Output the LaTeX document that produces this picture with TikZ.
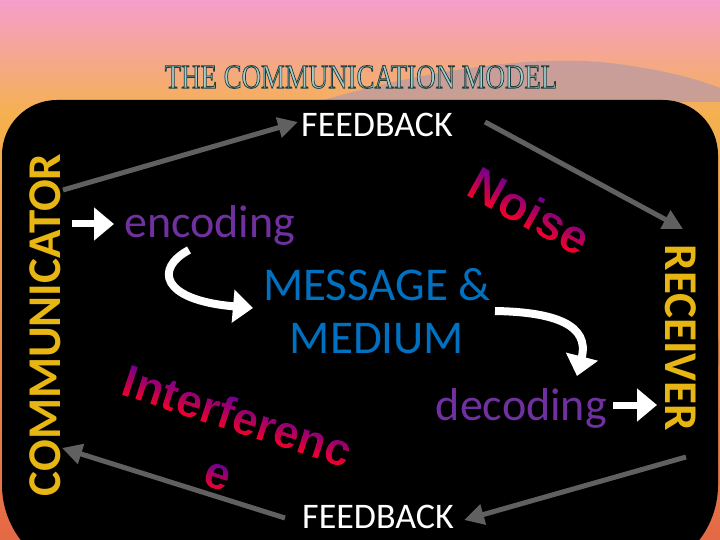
\documentclass[tikz,border=0pt]{standalone}
\usepackage{fontspec}
\setmainfont{Carlito}
\newfontfamily\wordartfont{Liberation Sans}
\newfontfamily\titlefont{Liberation Serif}
\usetikzlibrary{fadings,arrows.meta}

\definecolor{bgpink}{RGB}{246,158,204}
\definecolor{bgorange}{RGB}{245,177,78}
\definecolor{bgdeep}{RGB}{228,105,70}
\definecolor{swoosh}{RGB}{190,155,160}
\definecolor{gold}{RGB}{232,182,18}
\definecolor{encpurple}{RGB}{112,48,160}
\definecolor{msgblue}{RGB}{0,112,192}
\definecolor{arrgray}{RGB}{96,96,96}
\definecolor{wpurple}{RGB}{105,0,150}
\definecolor{wmid}{RGB}{200,0,100}
\definecolor{wred}{RGB}{250,0,35}
\definecolor{titlefill}{RGB}{165,205,205}

\newcommand{\wafont}{\wordartfont\bfseries\fontsize{48}{48}\selectfont}
\newcommand{\wbfont}{\wordartfont\bfseries\fontsize{46}{46}\selectfont}

\begin{tikzfadingfrompicture}[name=noisefade]
  \path (-85pt,-30pt) rectangle (85pt,30pt);
  \node[text=transparent!0, inner sep=0pt, font=\wafont] (noisetext) at (0,0) {Noise};
\end{tikzfadingfrompicture}
\begin{tikzfadingfrompicture}[name=interfadeA]
  \path (-135pt,-30pt) rectangle (135pt,30pt);
  \node[text=transparent!0, inner sep=0pt, font=\wbfont] (inttextA) at (0,0) {Interferenc};
\end{tikzfadingfrompicture}
\begin{tikzfadingfrompicture}[name=interfadeB]
  \path (-30pt,-30pt) rectangle (30pt,30pt);
  \node[text=transparent!0, inner sep=0pt, font=\wbfont] (inttextB) at (0,0) {e};
\end{tikzfadingfrompicture}

\tikzset{
  graylink/.style={draw=arrgray, line width=5pt, -{Triangle[length=20pt,width=20pt]}},
  whitelink/.style={draw=white, line width=8pt, -{Triangle[length=20pt,width=32pt]}},
  fbtext/.style={text=white, font=\fontsize{36}{36}\selectfont, inner sep=0pt},
  roletext/.style={text=gold, font=\bfseries\fontsize{47}{47}\selectfont, inner sep=0pt},
  codetext/.style={text=encpurple, font=\fontsize{46}{46}\selectfont, inner sep=0pt},
  msgtext/.style={text=msgblue, font=\fontsize{47}{53}\selectfont, inner sep=0pt, align=center},
  wordartshade/.style={fit fading=false, top color=wpurple, middle color=wmid, bottom color=wred},
}

\begin{document}
\begin{tikzpicture}[x=1pt,y=-1pt]
\useasboundingbox (0,0) rectangle (720,540);
% background
\shade[top color=bgpink, bottom color=bgorange] (0,0) rectangle (720,116);
\shade[top color=bgorange, bottom color=bgdeep] (0,115) rectangle (720,540);
\fill[swoosh, opacity=0.8] (320,101) .. controls (420,72) and (520,56) .. (600,62)
   .. controls (660,68) and (700,80) .. (720,88) -- (720,102) -- cycle;
% black panel
\fill[black, rounded corners=55pt] (2,100) rectangle (718,420);
\fill[black, rounded corners=90pt] (2,250) rectangle (718,575);

% title
\node[inner sep=0pt, text=titlefill, font=\titlefont\fontsize{34}{34}\selectfont] (title) at (361,77)
  {\scalebox{0.79}[1]{\special{pdf:literal direct 2 Tr 0.9 w 0.12 0.24 0.24 RG}THE COMMUNICATION MODEL\special{pdf:literal direct 0 Tr}}};

% side labels
\node[roletext, rotate=90] (comm) at (45,325) {COMMUNICATOR};
\node[roletext, rotate=-90] (recv) at (681,338) {RECEIVER};

% feedback labels
\node[fbtext, anchor=base] (fbtop) at (377,137) {FEEDBACK};
\node[fbtext, anchor=base] (fbbot) at (378,528) {FEEDBACK};

% encoding / decoding / message
\node[codetext, anchor=base west] (enc) at (124,237) {encoding};
\node[codetext, anchor=base east] (dec) at (607,420) {decoding};
\node[msgtext, anchor=north] (msg) at (377,268) {MESSAGE \&\\MEDIUM};

% noise / interference: gradient-filled word art
\coordinate (noise) at (530,211);
\coordinate (intA) at (238,416);
\coordinate (intB) at (217,477);
\begin{scope}[transform canvas={shift={(noise)}, rotate=-29}]
  \shade[path fading=noisefade, wordartshade] (-80pt,-18pt) rectangle (80pt,18pt);
\end{scope}
\begin{scope}[transform canvas={shift={(intA)}, rotate=-18}]
  \shade[path fading=interfadeA, wordartshade] (-130pt,-18pt) rectangle (130pt,18pt);
\end{scope}
\begin{scope}[transform canvas={shift={(intB)}, rotate=-18}]
  \shade[path fading=interfadeB, wordartshade] (-20pt,-13pt) rectangle (20pt,13pt);
\end{scope}

% gray feedback loop
\coordinate (commtop) at (63,190);
\coordinate (fbtopin) at (298,122);
\coordinate (fbtopout) at (485,122);
\coordinate (recvtop) at (683,229);
\coordinate (recvbot) at (686,457);
\coordinate (fbbotin) at (464,520);
\coordinate (fbbotout) at (285,518);
\coordinate (commbot) at (62,448);
\draw[graylink] (commtop) -- (fbtopin);
\draw[graylink] (fbtopout) -- (recvtop);
\draw[graylink] (recvbot) -- (fbbotin);
\draw[graylink] (fbbotout) -- (commbot);

% white arrows
\coordinate (encarrow) at (72,224);
\coordinate (encin) at (114,224);
\draw[whitelink, line width=7pt] (encarrow) -- (encin);
\coordinate (decout) at (613,405);
\coordinate (recvin) at (657,405);
\draw[whitelink, line width=7pt] (decout) -- (recvin);
\coordinate (encout) at (189,250);
\coordinate (msgin) at (253,308);
\draw[whitelink] (encout) .. controls (155,268) and (160,300) .. (msgin);
\coordinate (msgout) at (495,311);
\coordinate (decin) at (577,376);
\draw[whitelink] (msgout) .. controls (555,312) and (590,325) .. (decin);
\end{tikzpicture}
\end{document}
